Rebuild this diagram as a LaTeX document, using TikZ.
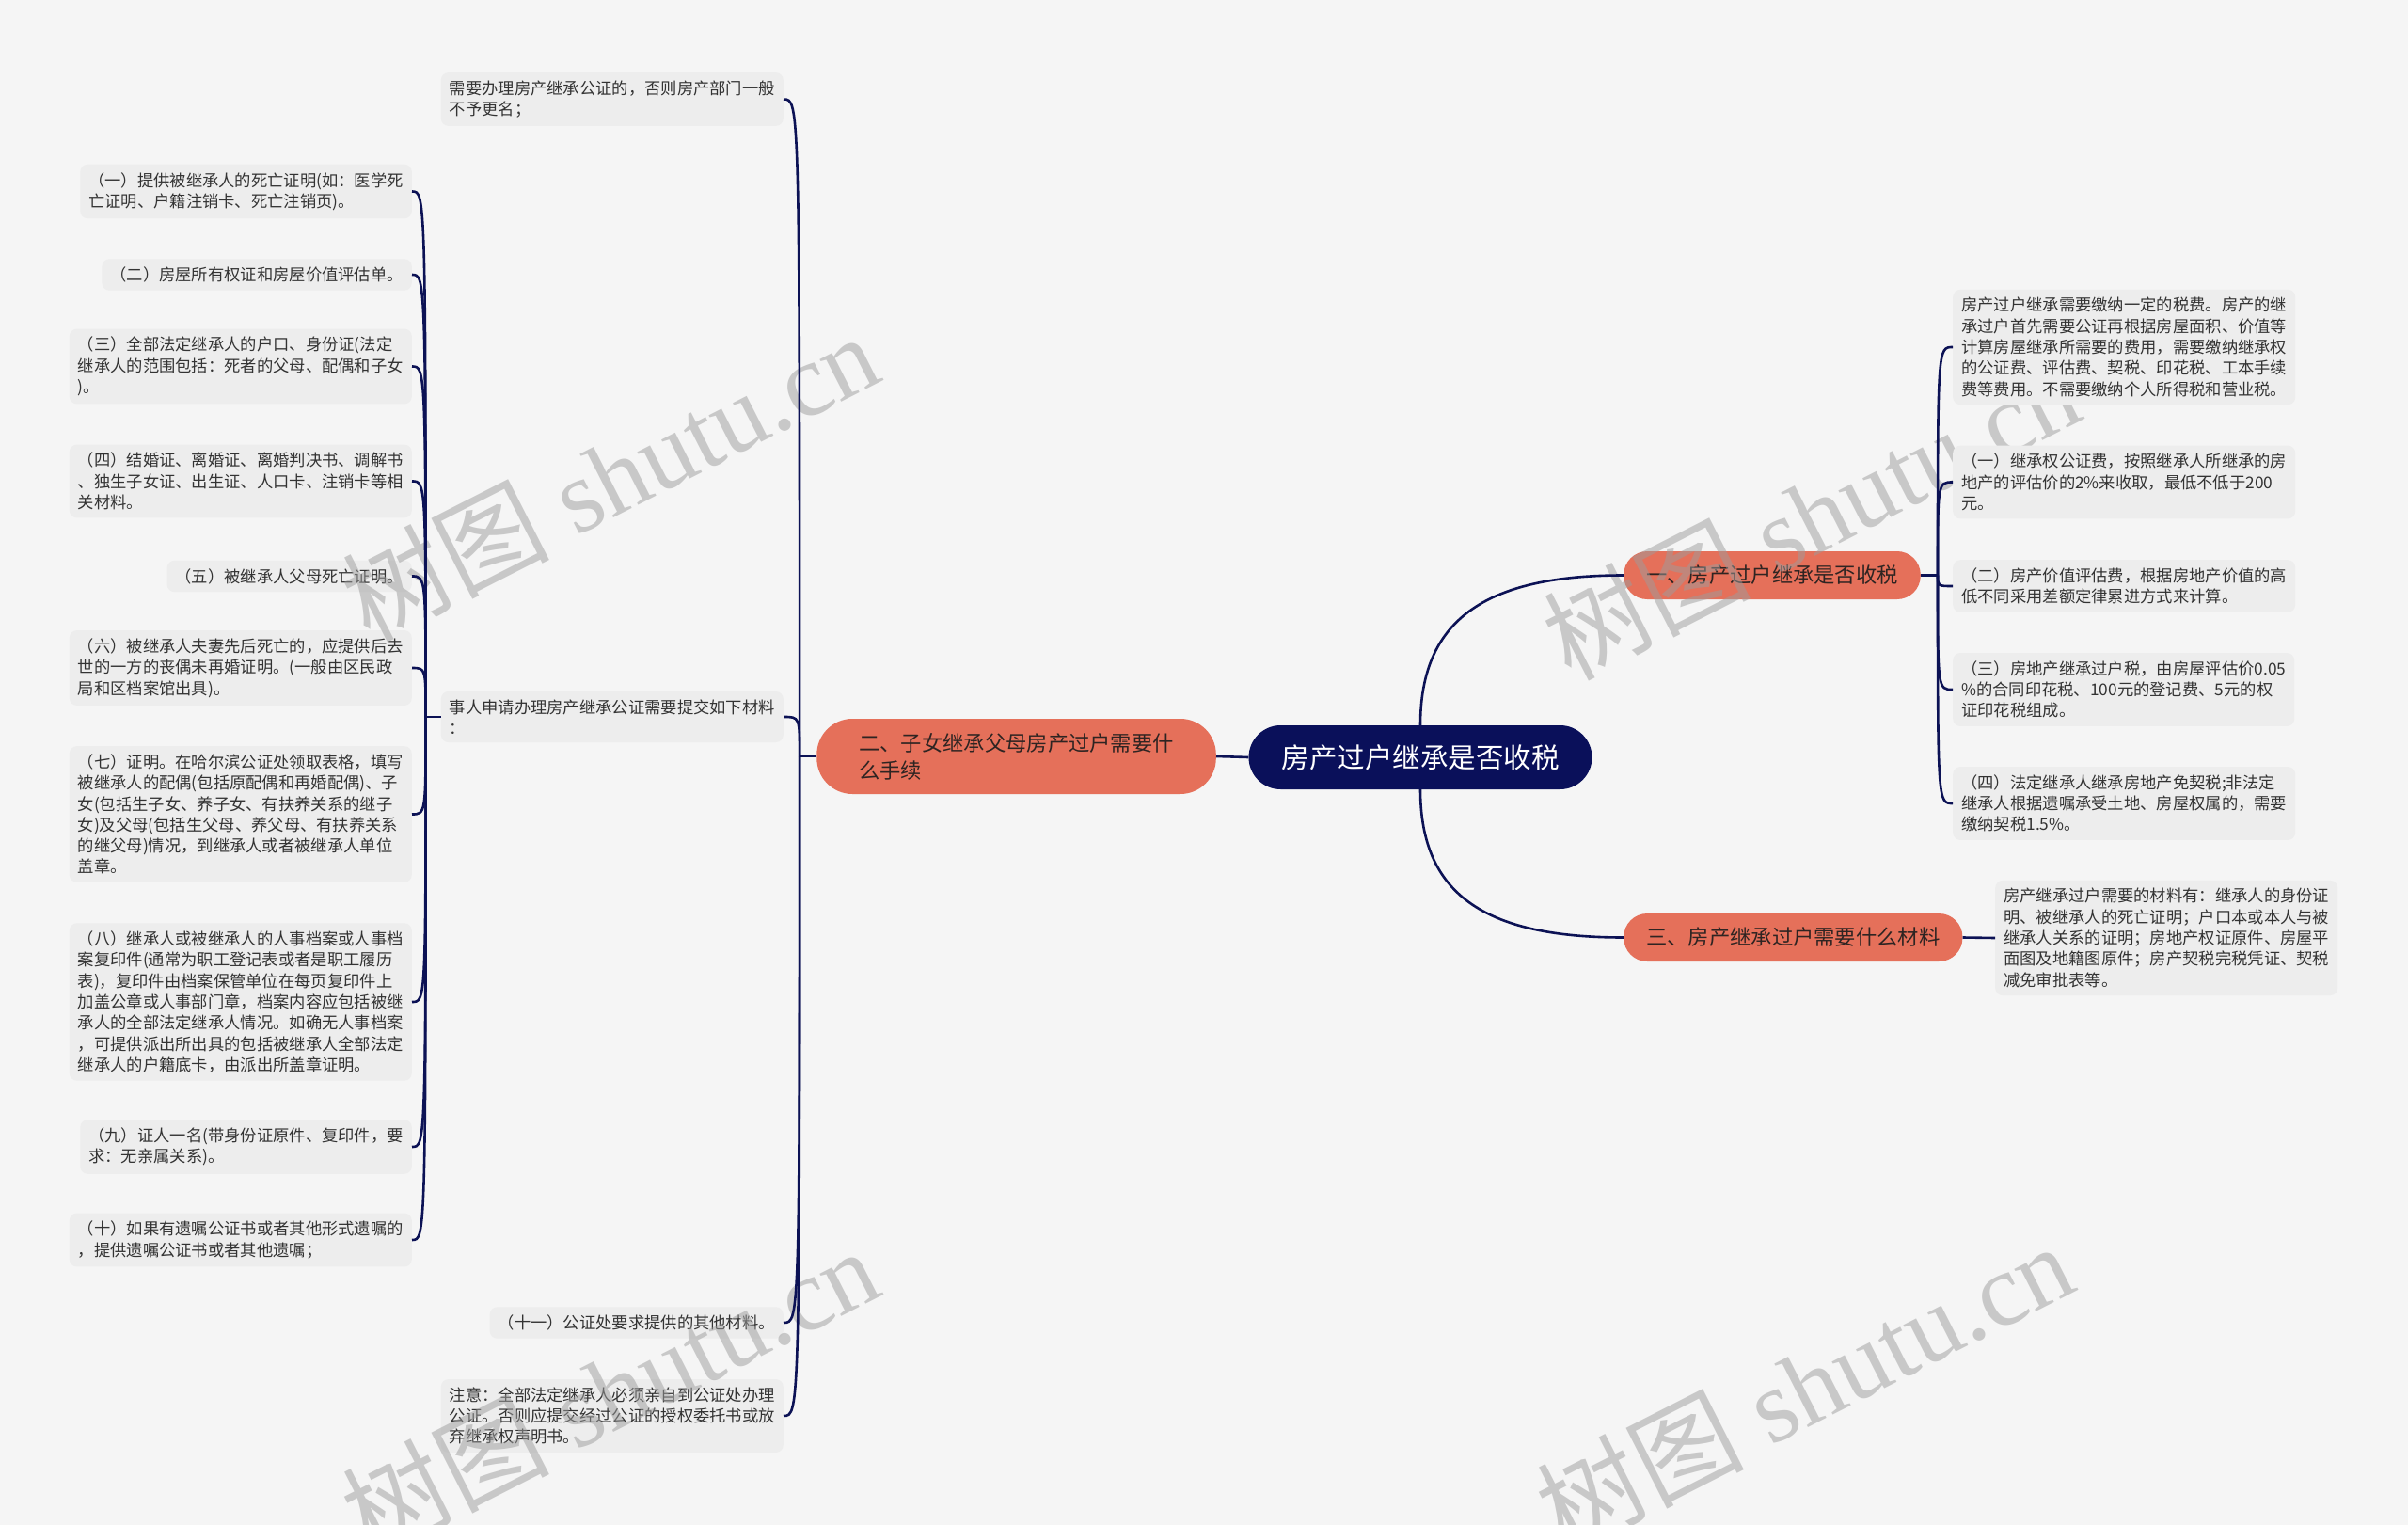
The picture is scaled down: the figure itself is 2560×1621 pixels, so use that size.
\documentclass[tikz,border=0pt]{standalone}
\usepackage{fontspec}
\newfontfamily\cjk{Noto Sans CJK SC}
\newfontfamily\wmlatin{Liberation Serif}
\definecolor{bgcol}{HTML}{F5F5F5}
\definecolor{leafcol}{HTML}{EDEDED}
\definecolor{rootcol}{HTML}{0A105A}
\definecolor{branchcol}{HTML}{E5705A}
\definecolor{linecol}{HTML}{0C1255}
\definecolor{leaftext}{HTML}{333333}
\definecolor{branchtext}{HTML}{2E2422}
\definecolor{markcol}{HTML}{9C9C9C}

\tikzset{
  rootbox/.style={fill=rootcol, text=white, rounded corners=34pt, minimum width=365pt,
    minimum height=68pt, inner xsep=0pt, font=\cjk\fontsize{29.5}{34}\selectfont},
  branchbox/.style={fill=branchcol, text=branchtext, rounded corners=25pt, minimum height=51pt,
    inner xsep=24pt, font=\cjk\fontsize{22.3}{29}\selectfont},
  leafbox/.style={fill=leafcol, text=leaftext, rounded corners=8pt, inner xsep=9pt,
    inner ysep=8.5pt, align=left, font=\cjk\fontsize{17.3}{22.3}\selectfont},
  link/.style={draw=linecol, line width=2.6pt},
  wmark/.style={text=markcol, opacity=0.5, rotate=27, inner sep=0pt,
    font=\wmlatin\fontsize{110}{110}\selectfont}
}

\begin{document}
\begin{tikzpicture}[x=1pt, y=-1pt]
  % page and background
  \useasboundingbox (0,0) rectangle (2560,1621);
  \fill[bgcol] (0,0) rectangle (2560,1621);

  % root and main branches
  \node[rootbox] (root) at (1510,805) {房产过户继承是否收税};
  \node[branchbox, anchor=west] (b1) at (1726,611.5) {一、房产过户继承是否收税};
  \node[branchbox, anchor=west] (b3) at (1726,996.5) {三、房产继承过户需要什么材料};
  \node[branchbox, anchor=east, align=left, minimum height=80pt, inner xsep=45pt,
    rounded corners=38pt] (b2) at (1293,804) {二、子女继承父母房产过户需要什\\么手续};

  % leaf of branch three
  \node[leafbox, anchor=west] (r6) at (2121,997) {房产继承过户需要的材料有：继承人的身份证\\明、被继承人的死亡证明；户口本或本人与被\\继承人关系的证明；房地产权证原件、房屋平\\面图及地籍图原件；房产契税完税凭证、契税\\减免审批表等。};

  % leaves of branch two
  \node[leafbox, anchor=east] (l1) at (833,105.5) {需要办理房产继承公证的，否则房产部门一般\\不予更名；};
  \node[leafbox, anchor=east] (l2) at (833,762) {事人申请办理房产继承公证需要提交如下材料\\：};
  \node[leafbox, anchor=east] (l3) at (833,1406) {（十一）公证处要求提供的其他材料。};
  \node[leafbox, anchor=east] (l4) at (833,1505) {注意：全部法定继承人必须亲自到公证处办理\\公证。否则应提交经过公证的授权委托书或放\\弃继承权声明书。};

  % list of materials
  \node[leafbox, anchor=east] (c1) at (438,203.5) {（一）提供被继承人的死亡证明(如：医学死\\亡证明、户籍注销卡、死亡注销页)。};
  \node[leafbox, anchor=east] (c2) at (438,292) {（二）房屋所有权证和房屋价值评估单。};
  \node[leafbox, anchor=east] (c3) at (438,389.5) {（三）全部法定继承人的户口、身份证(法定\\继承人的范围包括：死者的父母、配偶和子女\\)。};
  \node[leafbox, anchor=east] (c4) at (438,511.5) {（四）结婚证、离婚证、离婚判决书、调解书\\、独生子女证、出生证、人口卡、注销卡等相\\关材料。};
  \node[leafbox, anchor=east] (c5) at (438,612.5) {（五）被继承人父母死亡证明。};
  \node[leafbox, anchor=east] (c6) at (438,710) {（六）被继承人夫妻先后死亡的，应提供后去\\世的一方的丧偶未再婚证明。(一般由区民政\\局和区档案馆出具)。};
  \node[leafbox, anchor=east] (c7) at (438,865.5) {（七）证明。在哈尔滨公证处领取表格，填写\\被继承人的配偶(包括原配偶和再婚配偶)、子\\女(包括生子女、养子女、有扶养关系的继子\\女)及父母(包括生父母、养父母、有扶养关系\\的继父母)情况，到继承人或者被继承人单位\\盖章。};
  \node[leafbox, anchor=east] (c8) at (438,1065) {（八）继承人或被继承人的人事档案或人事档\\案复印件(通常为职工登记表或者是职工履历\\表)，复印件由档案保管单位在每页复印件上\\加盖公章或人事部门章，档案内容应包括被继\\承人的全部法定继承人情况。如确无人事档案\\，可提供派出所出具的包括被继承人全部法定\\继承人的户籍底卡，由派出所盖章证明。};
  \node[leafbox, anchor=east] (c9) at (438,1219) {（九）证人一名(带身份证原件、复印件，要\\求：无亲属关系)。};
  \node[leafbox, anchor=east] (c10) at (438,1318) {（十）如果有遗嘱公证书或者其他形式遗嘱的\\，提供遗嘱公证书或者其他遗嘱；};

  % watermarks
  \foreach \wx/\wy [count=\i] in {648/506, 1925/547, 648/1478, 1918/1473}
    \node[wmark] (wm\i) at (\wx,\wy) {{\cjk 树图} shutu.cn};

  % leaves of branch one
  \node[leafbox, anchor=west] (r1) at (2076,369) {房产过户继承需要缴纳一定的税费。房产的继\\承过户首先需要公证再根据房屋面积、价值等\\计算房屋继承所需要的费用，需要缴纳继承权\\的公证费、评估费、契税、印花税、工本手续\\费等费用。不需要缴纳个人所得税和营业税。};
  \node[leafbox, anchor=west] (r2) at (2076,512.5) {（一）继承权公证费，按照继承人所继承的房\\地产的评估价的2\%来收取，最低不低于200\\元。};
  \node[leafbox, anchor=west] (r3) at (2076,623) {（二）房产价值评估费，根据房地产价值的高\\低不同采用差额定律累进方式来计算。};
  \node[leafbox, anchor=west] (r4) at (2076,733) {（三）房地产继承过户税，由房屋评估价0.05\\\%的合同印花税、100元的登记费、5元的权\\证印花税组成。};
  \node[leafbox, anchor=west] (r5) at (2076,854) {（四）法定继承人继承房地产免契税;非法定\\继承人根据遗嘱承受土地、房屋权属的，需要\\缴纳契税1.5\%。};

  % connectors from the root
  \draw[link] (root.north) .. controls +(0,-110) and +(-150,0) .. (b1.west);
  \draw[link] (root.south) .. controls +(0,110) and +(-150,0) .. (b3.west);
  \draw[link] (root.west) -- (b2.east);

  % brackets
  \coordinate (b1s) at ([xshift=18pt]b1.east);
  \draw[link] (b1.east) -- (b1s);
  \foreach \k in {r1,r2,r3,r4,r5}
    \draw[link] (b1s) .. controls (b1s |- \k.west) .. (\k.west);
  \draw[link] (b3.east) -- (r6.west);

  \coordinate (b2s) at ([xshift=-18pt]b2.west);
  \draw[link] (b2.west) -- (b2s);
  \foreach \k in {l1,l2,l3,l4}
    \draw[link] (b2s) .. controls (b2s |- \k.east) .. (\k.east);

  \coordinate (l2s) at ([xshift=-16pt]l2.west);
  \draw[link] (l2.west) -- (l2s);
  \foreach \k in {c1,c2,c3,c4,c5,c6,c7,c8,c9,c10}
    \draw[link] (l2s) .. controls (l2s |- \k.east) .. (\k.east);
\end{tikzpicture}
\end{document}
